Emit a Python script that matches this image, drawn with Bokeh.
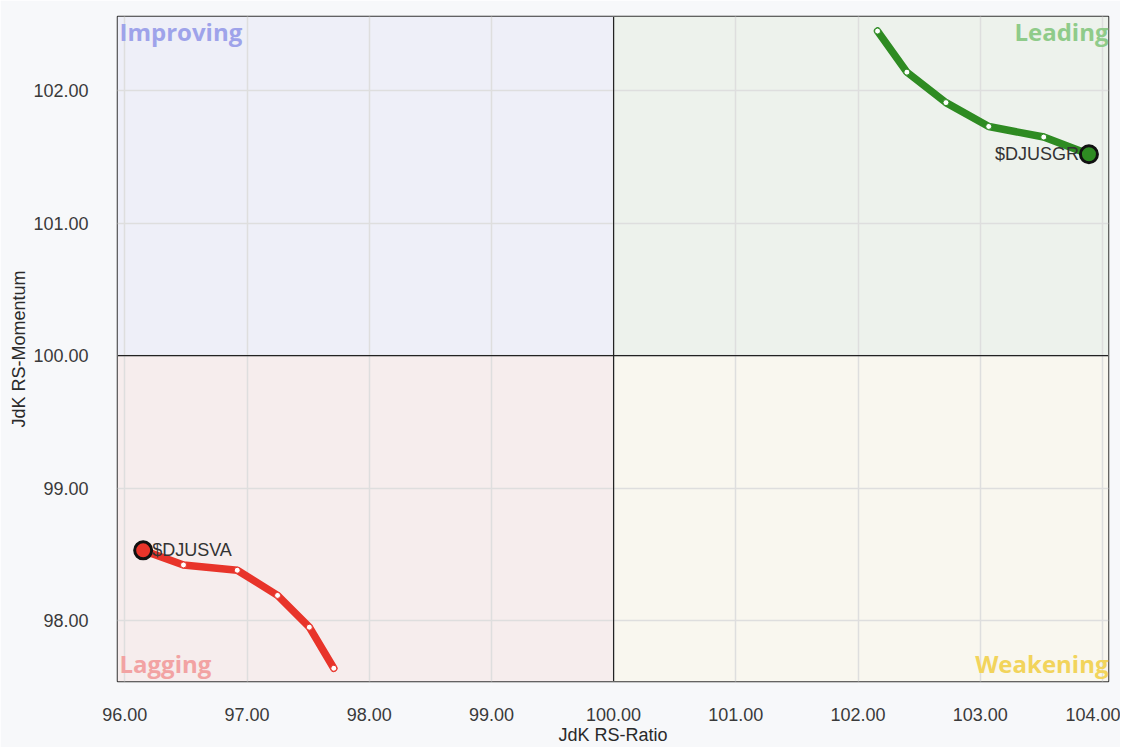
from bokeh.plotting import figure
from bokeh.models import Range1d, BoxAnnotation, Span, Label, FixedTicker, NumeralTickFormatter, ColumnDataSource
from bokeh.core.properties import value
from bokeh.embed import file_html
from bokeh.resources import INLINE

# Data
grp_names = ["$DJUSGR", "$DJUSVA"]
gr_ratio = [102.16, 102.40, 102.72, 103.07, 103.52, 103.89]
gr_momentum = [102.45, 102.14, 101.91, 101.73, 101.65, 101.52]
va_ratio = [97.71, 97.51, 97.25, 96.92, 96.48, 96.15]
va_momentum = [97.64, 97.95, 98.19, 98.38, 98.42, 98.53]
x_ticks = [96, 97, 98, 99, 100, 101, 102, 103, 104]
y_ticks = [98, 99, 100, 101, 102]
center = 100
x_lo, x_hi = 95.94, 104.05
y_lo, y_hi = 97.54, 102.56

BG = "#f7f8fa"
p = figure(output_backend="svg", toolbar_location=None,
           frame_width=991, frame_height=665,
           x_range=Range1d(x_lo, x_hi), y_range=Range1d(y_lo, y_hi),
           min_border_left=117, min_border_top=16, min_border_right=12, min_border_bottom=10,
           background_fill_color=BG, border_fill_color=BG)
p.outline_line_color = "#333333"
p.outline_line_width = 1.5

# Quadrant backgrounds
for kw, col in [(dict(right=center, bottom=center), "#eeeff8"),
                (dict(left=center, bottom=center), "#edf2ec"),
                (dict(right=center, top=center), "#f6eded"),
                (dict(left=center, top=center), "#f9f7ef")]:
    p.add_layout(BoxAnnotation(**kw, fill_color=col, fill_alpha=1, line_color=None, level="image"))

p.xgrid.grid_line_color = "#dedede"
p.ygrid.grid_line_color = "#dedede"
p.xgrid.grid_line_width = 1.5
p.ygrid.grid_line_width = 1.5
p.xgrid.level = "underlay"
p.ygrid.level = "underlay"

p.add_layout(Span(location=center, dimension="width", line_color="#222222", line_width=1.2))
p.add_layout(Span(location=center, dimension="height", line_color="#222222", line_width=1.2))

for ax in (p.xaxis[0], p.yaxis[0]):
    ax.axis_line_color = None
    ax.major_tick_line_color = None
    ax.minor_tick_line_color = None
    ax.major_label_text_font = "Liberation Sans"
    ax.major_label_text_font_size = "18px"
    ax.major_label_text_color = "#3a3a3a"
    ax.axis_label_text_font = "Liberation Sans"
    ax.axis_label_text_font_size = "18px"
    ax.axis_label_text_font_style = "normal"
    ax.axis_label_text_color = "#2a2a2a"
    ax.formatter = NumeralTickFormatter(format="0.00")

p.xaxis[0].ticker = FixedTicker(ticks=x_ticks)
p.yaxis[0].ticker = FixedTicker(ticks=y_ticks)
p.xaxis[0].axis_label = "JdK RS-Ratio"
p.yaxis[0].axis_label = "JdK RS-Momentum"
p.xaxis[0].major_label_standoff = 20
p.xaxis[0].axis_label_standoff = 1
p.yaxis[0].major_label_standoff = 23
p.yaxis[0].axis_label_standoff = 1

# Quadrant labels
qfont = "Open Sans"
def qlabel(txt, x, y, color, align, baseline, xo, yo):
    p.add_layout(Label(x=x, y=y, text=txt, text_color=color, text_font=qfont,
                       text_font_size="24px", text_font_style="bold", text_align=align,
                       text_baseline=baseline, x_offset=xo, y_offset=yo))
qlabel("Improving", x_lo, y_hi, "#9ea3ea", "left", "top", 2, 2)
qlabel("Leading", x_hi, y_hi, "#8fcb8a", "right", "top", 0, 2)
qlabel("Lagging", x_lo, y_lo, "#f2a3a3", "left", "bottom", 2, 2)
qlabel("Weakening", x_hi, y_lo, "#f2d45c", "right", "bottom", 0, 2)

series = [
    (gr_ratio, gr_momentum, "#2e8b22", grp_names[0], "right", -10),
    (va_ratio, va_momentum, "#e8342a", grp_names[1], "left", 9),
]
for xs, ys, col, name, align, xo in series:
    src = ColumnDataSource(dict(x=xs, y=ys))
    p.line("x", "y", source=src, line_color=col, line_width=7.5, line_join="round", line_cap="round")
    tail = ColumnDataSource(dict(x=xs[:-1], y=ys[:-1]))
    p.scatter("x", "y", source=tail, size=6, fill_color="white", line_color=col, line_width=1)
    head = ColumnDataSource(dict(x=xs[-1:], y=ys[-1:], t=[name]))
    p.scatter("x", "y", source=head, size=17, fill_color=col, line_color="#111111", line_width=3)
    p.text("x", "y", text="t", source=head, text_font=value("Liberation Sans"), text_font_size="18px",
           text_color="#333333", text_align=align, text_baseline="middle", x_offset=xo)

open("out.html", "w").write(file_html(p, INLINE))
